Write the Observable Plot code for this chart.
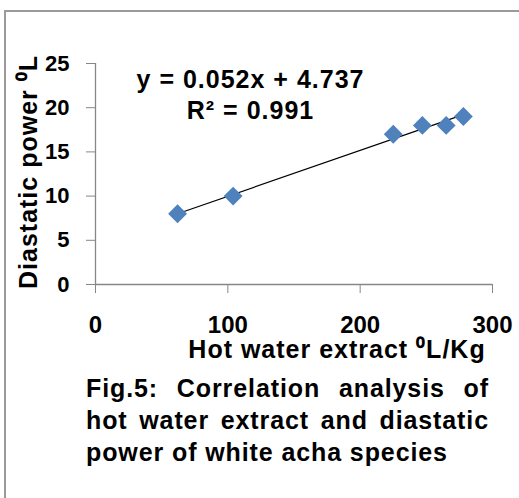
<!DOCTYPE html>
<html>
<head>
<meta charset="utf-8">
<script src="https://cdn.jsdelivr.net/npm/d3@7"></script>
<script src="https://cdn.jsdelivr.net/npm/@observablehq/plot@0.6"></script>
<style>
  html, body { margin: 0; padding: 0; background: #fff; overflow: hidden; }
  #wrap { position: relative; width: 519px; height: 498px; font-family: "Liberation Sans", Arial, sans-serif; font-weight: bold; }
  #frame { position: absolute; left: 4px; top: 10px; right: -10px; bottom: -10px; border-left: 2px solid #9a9a9a; border-top: 2px solid #9a9a9a; }
  #chart { position: absolute; left: 0; top: 0; }
  #caption { position: absolute; left: 86px; top: 372px; width: 403px; font-size: 25px; line-height: 32px; color: #000; letter-spacing: 0.9px; }
  #caption .j { text-align: justify; text-align-last: justify; white-space: nowrap; }
</style>
</head>
<body>
<div id="wrap">
  <div id="frame"></div>
  <div id="chart"></div>
  <div id="caption"></div>
</div>
<script>
// Data
const hotWaterExtract = [62, 104, 225, 247, 265, 278];
const diastaticPower  = [8, 10, 17, 18, 18, 19];
const xTicks = [0, 100, 200, 300];
const yTicks = [0, 5, 10, 15, 20, 25];
const trendSlope = 0.052;
const trendIntercept = 4.737;
const rSquared = 0.991;
const xLabel = "Hot water extract \u2070L/Kg";
const yLabel = "Diastatic power \u2070L";
const captionLines = [
  "Fig.5: Correlation analysis of",
  "hot water extract and diastatic",
  "power of white acha species"
];

const data = hotWaterExtract.map((x, i) => ({x, y: diastaticPower[i]}));
const eqText = `y = ${trendSlope.toFixed(3)}x + ${trendIntercept.toFixed(3)}\nR\u00B2 = ${rSquared.toFixed(3)}`;
const gray = "#878787";

const chart = Plot.plot({
  width: 519,
  height: 370,
  marginLeft: 95,
  marginRight: 27,
  marginTop: 63,
  marginBottom: 86,
  style: {fontFamily: "'Liberation Sans', Arial, sans-serif", fontWeight: "bold", background: "transparent", overflow: "visible", color: "#000"},
  x: {domain: [0, 300]},
  y: {domain: [0, 25]},
  marks: [
    Plot.axisY(yTicks, {tickSize: 9, tickPadding: 17, fontSize: 22, stroke: gray, fill: "#000", label: null}),
    Plot.axisX(xTicks, {tickSize: 9, tickPadding: 22, fontSize: 24, stroke: gray, fill: "#000", label: null}),
    Plot.ruleX([0], {stroke: gray, strokeWidth: 1.3}),
    Plot.ruleY([0], {stroke: gray, strokeWidth: 1.3}),
    Plot.linearRegressionY(data, {x: "x", y: "y", ci: 0, stroke: "#000", strokeWidth: 1.2}),
    Plot.dot(data, {x: "x", y: "y", symbol: "diamond2", r: 8.5, fill: "#4F81BD", stroke: "none"}),
    Plot.text([yLabel], {text: d => d, frameAnchor: "left", dx: -67, dy: -2, rotate: -90, textAnchor: "middle", lineAnchor: "middle", fontSize: 25, fill: "#000"}),
    Plot.text([xLabel], {text: d => d, frameAnchor: "bottom", dx: 43, dy: 65, textAnchor: "middle", lineAnchor: "middle", fontSize: 25, fill: "#000"}),
    Plot.text([eqText], {text: d => d, frameAnchor: "top-left", dx: 155, dy: 2, lineAnchor: "top", textAnchor: "middle", lineHeight: 1.24, fontSize: 25, fill: "#000"})
  ]
});
// letter spacing to match the slightly wider lettering of the reference
chart.querySelectorAll("g[aria-label='text'] text").forEach(t => t.setAttribute("letter-spacing", "1px"));
document.getElementById("chart").appendChild(chart);

const cap = document.getElementById("caption");
captionLines.forEach((line, i) => {
  const div = document.createElement("div");
  if (i < captionLines.length - 1) div.className = "j";
  div.textContent = line;
  cap.appendChild(div);
});
</script>
</body>
</html>
